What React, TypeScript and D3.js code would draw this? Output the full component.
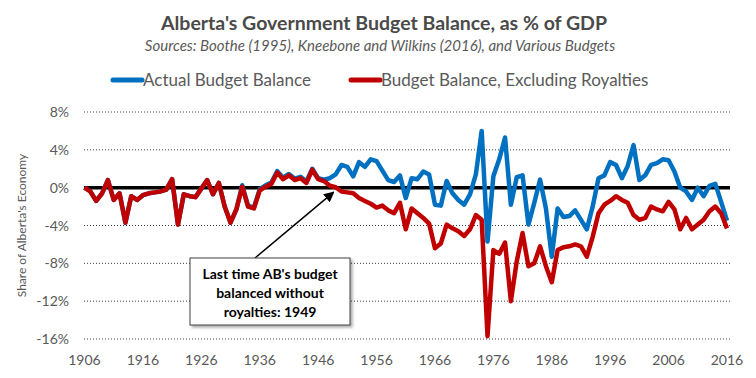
import React from "react";
import * as d3 from "d3";

const years: number[] = d3.range(1906, 2017);

const royaltiesExcluded: number[] = [
  0, -0.4, -1.4, -0.6, 0.8, -1.3, -0.6, -3.7, -0.9, -1.3,
  -0.8, -0.6, -0.5, -0.4, -0.2, 0.9, -3.9, -0.7, -0.9, -1.0,
  -0.1, 0.8, -0.7, 0.5, -2.0, -3.7, -2.3, 0.1, -2.0, -2.2,
  -0.3, 0.1, 0.4, 1.6, 0.9, 1.3, 0.8, 1.0, 0.5, 1.9,
  0.9, 0.7, 0.2, 0.05, -0.4, -0.5, -0.6, -1.1, -1.4, -1.7,
  -2.1, -1.9, -2.4, -2.7, -1.6, -4.4, -2.2, -2.7, -3.2, -3.8,
  -6.4, -5.9, -3.9, -4.3, -4.6, -5.1, -4.4, -2.9, -3.4, -15.7,
  -6.6, -7.0, -5.8, -12.0, -7.8, -4.8, -8.3, -8.0, -6.2, -8.3,
  -10.0, -6.6, -6.3, -6.2, -6.0, -6.2, -7.3, -5.2, -2.7, -1.8,
  -1.4, -0.9, -1.3, -1.6, -2.9, -3.4, -3.2, -2.0, -2.3, -2.5,
  -1.5, -2.3, -4.4, -3.2, -4.4, -3.9, -3.4, -2.5, -2.0, -2.7,
  -4.3,
];

const actual: number[] = [
  0, -0.4, -1.4, -0.6, 0.8, -1.3, -0.6, -3.7, -0.9, -1.3,
  -0.8, -0.6, -0.5, -0.4, -0.2, 0.9, -3.9, -0.7, -0.9, -1.0,
  -0.1, 0.8, -0.7, 0.5, -2.0, -3.7, -2.3, 0.25, -1.9, -2.1,
  -0.15, 0.25, 0.55, 1.75, 1.05, 1.45, 0.95, 1.15, 0.65, 2.0,
  1.0, 0.85, 1.0, 1.4, 2.4, 2.2, 1.2, 2.7, 2.2, 3.0,
  2.8, 1.8, 0.8, 0.6, 1.3, -1.1, 1.0, 0.9, 1.7, 1.4,
  -1.8, -1.9, 0.7, -0.6, -1.3, -1.8, -0.7, 1.4, 6.0, -5.7,
  1.2, 3.0, 5.3, -1.8, 1.1, 1.3, -3.9, -1.6, 0.85, -2.2,
  -7.3, -2.2, -3.1, -3.0, -2.4, -3.4, -4.4, -2.0, 1.0, 1.3,
  2.7, 2.4, 1.0, 2.3, 4.5, 0.8, 1.3, 2.4, 2.6, 3.0,
  2.9, 1.7, 0.0, -0.4, -1.3, 0.0, -0.9, 0.2, 0.4, -1.5,
  -3.5,
];

const yTicks: number[] = [8, 4, 0, -4, -8, -12, -16];
const xTicks: number[] = [1906, 1916, 1926, 1936, 1946, 1956, 1966, 1976, 1986, 1996, 2006, 2016];

const seriesNames: string[] = ["Actual Budget Balance", "Budget Balance, Excluding Royalties"];
const seriesColors: string[] = ["#0070C0", "#C00000"];

const W = 756;
const H = 378;
const FONT = "Lato, 'Open Sans', sans-serif";

export default function App() {
  const x = d3.scaleLinear().domain([1906, 2016]).range([84.5, 727]);
  const y = d3.scaleLinear().domain([-16, 8]).range([339, 112]);
  const line = d3
    .line<number>()
    .x((_, i) => x(years[i]))
    .y((d) => y(d))
    .curve(d3.curveLinear);

  const textColor = "#595959";

  return (
    <svg
      width={W}
      height={H}
      style={{ position: "absolute", left: 0, top: 0, background: "#fff" }}
      fontFamily={FONT}
    >
      <defs>
        <marker id="arrow" viewBox="0 0 10 10" refX="9" refY="5" markerWidth="7" markerHeight="7" orient="auto-start-reverse">
          <path d="M0,0 L10,5 L0,10 z" fill="#000" />
        </marker>
        <filter id="shadow" x="-10%" y="-10%" width="130%" height="130%">
          <feDropShadow dx="2" dy="2" stdDeviation="1.5" floodColor="#000" floodOpacity="0.35" />
        </filter>
      </defs>
      <rect x={0} y={0} width={W} height={H} fill="#fff" />

      <text x={384} y={30} textAnchor="middle" fontSize={19.5} fontWeight="bold" fill="#4a4a4a">
        Alberta's Government Budget Balance, as % of GDP
      </text>
      <text x={380} y={51} textAnchor="middle" fontSize={15} fontStyle="italic" fill={textColor}>
        Sources: Boothe (1995), Kneebone and Wilkins (2016), and Various Budgets
      </text>

      {/* legend */}
      <line x1={113} x2={142} y1={80} y2={80} stroke={seriesColors[0]} strokeWidth={5} strokeLinecap="round" />
      <text x={143} y={86} fontSize={17} fill={textColor}>{seriesNames[0]}</text>
      <line x1={351} x2={380} y1={80} y2={80} stroke={seriesColors[1]} strokeWidth={5} strokeLinecap="round" />
      <text x={381} y={86} fontSize={17} fill={textColor}>{seriesNames[1]}</text>

      {/* gridlines */}
      {yTicks.map((t) =>
        t === 0 ? null : (
          <line
            key={"g" + t}
            x1={84}
            x2={730}
            y1={y(t)}
            y2={y(t)}
            stroke="#404040"
            strokeWidth={1}
            strokeDasharray="1 2"
          />
        )
      )}
      {yTicks.map((t) => (
        <text key={"yl" + t} x={69} y={y(t) + 5} textAnchor="end" fontSize={14} fill={textColor}>
          {t + "%"}
        </text>
      ))}
      <text
        transform={`translate(26,${(y(8) + y(-16)) / 2}) rotate(-90)`}
        textAnchor="middle"
        fontSize={12}
        fill={textColor}
      >
        Share of Alberta's Economy
      </text>

      {xTicks.map((t) => (
        <text key={"xl" + t} x={x(t)} y={365} textAnchor="middle" fontSize={14} fill={textColor}>
          {t}
        </text>
      ))}

      {/* zero line */}
      <line x1={84} x2={730} y1={y(0)} y2={y(0)} stroke="#000" strokeWidth={3.5} />

      <path d={line(actual) || ""} fill="none" stroke={seriesColors[0]} strokeWidth={4.5} strokeLinejoin="round" />
      <path d={line(royaltiesExcluded) || ""} fill="none" stroke={seriesColors[1]} strokeWidth={4.5} strokeLinejoin="round" />

      {/* annotation */}
      <line x1={255} y1={258} x2={x(1949) - 2} y2={y(0.05) + 5} stroke="#000" strokeWidth={1.5} markerEnd="url(#arrow)" />
      <rect x={190} y={258} width={160} height={67} fill="#fff" stroke="#404040" strokeWidth={1} filter="url(#shadow)" />
      <g fontSize={14} fontWeight="bold" fill="#000" textAnchor="middle">
        <text x={270} y={279}>Last time AB's budget</text>
        <text x={270} y={298}>balanced without</text>
        <text x={270} y={317}>royalties: 1949</text>
      </g>
    </svg>
  );
}
